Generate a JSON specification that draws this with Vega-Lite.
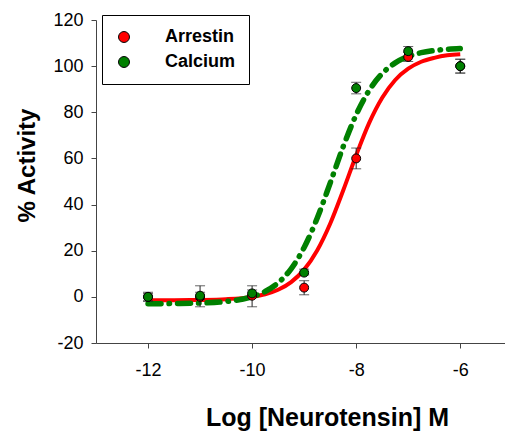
{
  "$schema": "https://vega.github.io/schema/vega-lite/v6.json",
  "autosize": {"type": "none"},
  "width": 409,
  "height": 323,
  "padding": {"left": 96, "top": 20, "right": 0, "bottom": 90},
  "background": "white",
  "config": {
    "view": {"stroke": null},
    "font": "Liberation Sans",
    "axis": {
      "labelFont": "Liberation Sans",
      "labelFontSize": 18,
      "labelColor": "black",
      "titleFont": "Liberation Sans",
      "titleFontWeight": "bold",
      "titleColor": "black",
      "domainColor": "#444444",
      "domainWidth": 1,
      "tickColor": "#444444",
      "tickSize": 5,
      "tickWidth": 1,
      "grid": false
    }
  },
  "datasets": {
    "points": [
      {"series": "Arrestin", "x": -12, "y": 0, "lo": -2, "hi": 2},
      {"series": "Arrestin", "x": -11, "y": 0, "lo": -4.3, "hi": 4.8},
      {"series": "Arrestin", "x": -10, "y": 0.5, "lo": -4.3, "hi": 4.8},
      {"series": "Arrestin", "x": -9, "y": 4, "lo": 0.9, "hi": 7},
      {"series": "Arrestin", "x": -8, "y": 60, "lo": 55.5, "hi": 64.5},
      {"series": "Arrestin", "x": -7, "y": 104, "lo": 102, "hi": 106},
      {"series": "Arrestin", "x": -6, "y": 100, "lo": 97, "hi": 103},
      {"series": "Calcium", "x": -12, "y": 0, "lo": -1.5, "hi": 1.5},
      {"series": "Calcium", "x": -11, "y": 0.5, "lo": -1, "hi": 2},
      {"series": "Calcium", "x": -10, "y": 1.5, "lo": 0, "hi": 3},
      {"series": "Calcium", "x": -9, "y": 10.5, "lo": 9.5, "hi": 12},
      {"series": "Calcium", "x": -8, "y": 90.5, "lo": 88, "hi": 93},
      {"series": "Calcium", "x": -7, "y": 106.5, "lo": 104, "hi": 108.5},
      {"series": "Calcium", "x": -6, "y": 100, "lo": 97, "hi": 103}
    ],
    "curves": [
      {"series": "Arrestin", "x": -12, "y": -1.49},
      {"series": "Arrestin", "x": -11.5, "y": -1.45},
      {"series": "Arrestin", "x": -11, "y": -1.35},
      {"series": "Arrestin", "x": -10.5, "y": -1.02},
      {"series": "Arrestin", "x": -10, "y": 0.0},
      {"series": "Arrestin", "x": -9.75, "y": 1.13},
      {"series": "Arrestin", "x": -9.5, "y": 3.09},
      {"series": "Arrestin", "x": -9.25, "y": 6.41},
      {"series": "Arrestin", "x": -9, "y": 11.8},
      {"series": "Arrestin", "x": -8.75, "y": 20.1},
      {"series": "Arrestin", "x": -8.5, "y": 31.7},
      {"series": "Arrestin", "x": -8.25, "y": 46.1},
      {"series": "Arrestin", "x": -8, "y": 61.4},
      {"series": "Arrestin", "x": -7.75, "y": 75.4},
      {"series": "Arrestin", "x": -7.5, "y": 86.3},
      {"series": "Arrestin", "x": -7.25, "y": 94.0},
      {"series": "Arrestin", "x": -7, "y": 98.9},
      {"series": "Arrestin", "x": -6.75, "y": 101.9},
      {"series": "Arrestin", "x": -6.5, "y": 103.6},
      {"series": "Arrestin", "x": -6.25, "y": 104.7},
      {"series": "Arrestin", "x": -6, "y": 105.2},
      {"series": "Calcium", "x": -12, "y": -2.97},
      {"series": "Calcium", "x": -11.5, "y": -2.9},
      {"series": "Calcium", "x": -11, "y": -2.69},
      {"series": "Calcium", "x": -10.5, "y": -2.02},
      {"series": "Calcium", "x": -10, "y": 0.04},
      {"series": "Calcium", "x": -9.75, "y": 2.3},
      {"series": "Calcium", "x": -9.5, "y": 6.08},
      {"series": "Calcium", "x": -9.25, "y": 12.18},
      {"series": "Calcium", "x": -9, "y": 21.41},
      {"series": "Calcium", "x": -8.75, "y": 34.06},
      {"series": "Calcium", "x": -8.5, "y": 49.31},
      {"series": "Calcium", "x": -8.25, "y": 65.06},
      {"series": "Calcium", "x": -8, "y": 78.93},
      {"series": "Calcium", "x": -7.75, "y": 89.52},
      {"series": "Calcium", "x": -7.5, "y": 96.8},
      {"series": "Calcium", "x": -7.25, "y": 101.41},
      {"series": "Calcium", "x": -7, "y": 104.2},
      {"series": "Calcium", "x": -6.75, "y": 105.83},
      {"series": "Calcium", "x": -6.5, "y": 106.77},
      {"series": "Calcium", "x": -6.25, "y": 107.3},
      {"series": "Calcium", "x": -6, "y": 107.61}
    ]
  },
  "encoding": {
    "x": {
      "field": "x",
      "type": "quantitative",
      "scale": {"domain": [-13, -5.14], "nice": false, "zero": false},
      "axis": {
        "values": [-12, -10, -8, -6],
        "labelExpr": "'' + datum.value",
        "title": "Log [Neurotensin] M",
        "titleFontSize": 25,
        "titleX": 231,
        "titleY": 82,
        "titleAnchor": null,
        "titleAlign": "center",
        "titleBaseline": "alphabetic",
        "labelPadding": 13
      }
    },
    "y": {
      "field": "y",
      "type": "quantitative",
      "scale": {"domain": [-20, 120], "nice": false, "zero": false},
      "axis": {
        "values": [-20, 0, 20, 40, 60, 80, 100, 120],
        "labelExpr": "'' + datum.value",
        "title": "% Activity",
        "titleFontSize": 24,
        "titleAngle": 270,
        "titleX": -62,
        "titleY": 145,
        "titleAlign": "center",
        "titleBaseline": "alphabetic",
        "labelPadding": 8
      }
    }
  },
  "layer": [
    {
      "data": {"name": "curves"},
      "transform": [{"filter": "datum.series === 'Arrestin'"}],
      "mark": {"type": "line", "color": "#ff0000", "strokeWidth": 4, "interpolate": "monotone"},
      "encoding": {}
    },
    {
      "data": {"name": "curves"},
      "transform": [{"filter": "datum.series === 'Calcium'"}],
      "mark": {"type": "line", "color": "#008000", "strokeWidth": 5.5, "strokeCap": "round", "strokeDash": [13, 8, 0.5, 8], "interpolate": "monotone"},
      "encoding": {}
    },
    {
      "data": {"name": "points"},
      "mark": {"type": "rule", "color": "#222222", "strokeWidth": 1},
      "encoding": {"y": {"field": "lo", "type": "quantitative"}, "y2": {"field": "hi"}}
    },
    {
      "data": {"name": "points"},
      "mark": {"type": "tick", "orient": "horizontal", "color": "#222222", "size": 10, "thickness": 1},
      "encoding": {"y": {"field": "lo", "type": "quantitative"}}
    },
    {
      "data": {"name": "points"},
      "mark": {"type": "tick", "orient": "horizontal", "color": "#222222", "size": 10, "thickness": 1},
      "encoding": {"y": {"field": "hi", "type": "quantitative"}}
    },
    {
      "data": {"name": "points"},
      "mark": {"type": "circle", "size": 80, "opacity": 1, "stroke": "black", "strokeWidth": 1},
      "encoding": {
        "color": {
          "field": "series",
          "type": "nominal",
          "scale": {"domain": ["Arrestin", "Calcium"], "range": ["#ff0000", "#008000"]},
          "legend": {
            "title": null,
            "orient": "none",
            "legendX": 6,
            "legendY": -5,
            "padding": 13,
            "strokeColor": "black",
            "fillColor": "white",
            "symbolType": "circle",
            "symbolSize": 120,
            "symbolStrokeColor": "black",
            "symbolStrokeWidth": 1,
            "symbolOpacity": 1,
            "labelFont": "Liberation Sans",
            "labelFontWeight": "bold",
            "labelFontSize": 18,
            "labelColor": "black",
            "labelOffset": 32,
            "rowPadding": 7
          }
        }
      }
    }
  ]
}
